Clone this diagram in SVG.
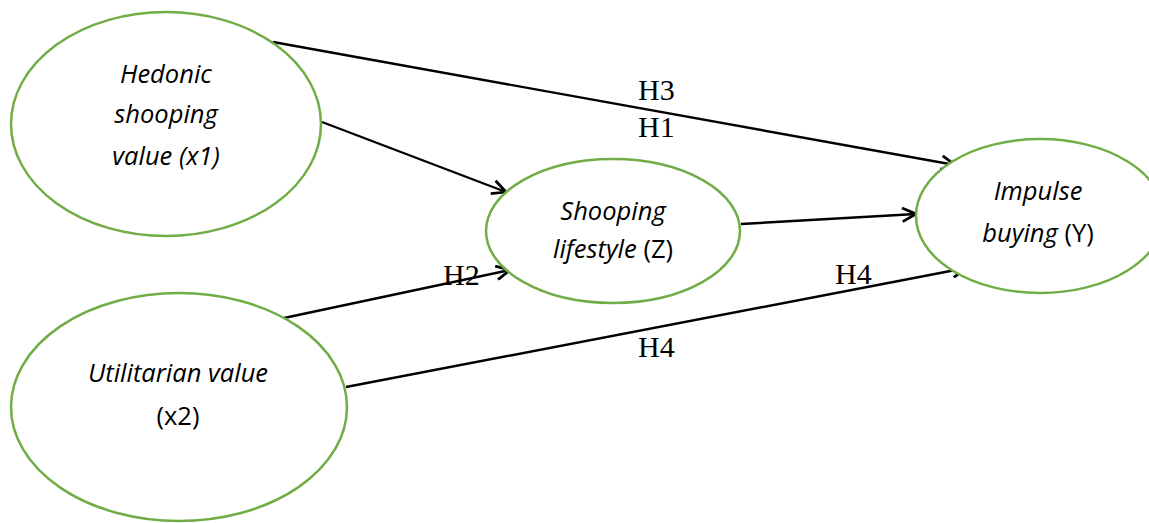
<svg xmlns="http://www.w3.org/2000/svg" width="1149" height="523" viewBox="0 0 1149 523">
<style>
.node{fill:#fff;stroke:#70AD47;stroke-width:2.5}
.t{font-family:"Open Sans","Liberation Sans",sans-serif;font-size:25.5px;fill:#000;text-anchor:middle}
.i{font-style:italic}
.h{font-family:"Liberation Serif","Times New Roman",serif;font-size:30px;fill:#000}
.c{fill:none;stroke:#000;stroke-width:2.4}
</style>
<defs>
<marker id="arr" viewBox="0 0 14 14" refX="13" refY="7" markerWidth="16" markerHeight="16" markerUnits="userSpaceOnUse" orient="auto">
<path d="M1,1 L13,7 L1,13" fill="none" stroke="#000" stroke-width="2.4"/>
</marker>
</defs>
<g id="connectors">
<line class="c" x1="273" y1="42" x2="955" y2="165" marker-end="url(#arr)"/>
<line class="c" x1="322" y1="122" x2="506" y2="192" marker-end="url(#arr)"/>
<line class="c" x1="284" y1="318" x2="510" y2="270" marker-end="url(#arr)"/>
<line class="c" x1="741" y1="224" x2="916" y2="214" marker-end="url(#arr)"/>
<line class="c" x1="346" y1="387" x2="966" y2="268" marker-end="url(#arr)"/>
</g>
<g id="labels">
<text class="h" x="638" y="100">H3</text>
<text class="h" x="638" y="137">H1</text>
<text class="h" x="443" y="285">H2</text>
<text class="h" x="835" y="284">H4</text>
<text class="h" x="638" y="357">H4</text>
</g>
<g id="hedonic">
<ellipse class="node" cx="166" cy="124" rx="155" ry="112"/>
<text class="t i" x="166" y="83">Hedonic</text>
<text class="t i" x="166" y="123">shooping</text>
<text class="t i" x="166" y="165">value (x1)</text>
</g>
<g id="lifestyle">
<ellipse class="node" cx="613" cy="231" rx="127" ry="72"/>
<text class="t i" x="613" y="220">Shooping</text>
<text class="t" x="613" y="258"><tspan class="i">lifestyle</tspan> (Z)</text>
</g>
<g id="impulse">
<ellipse class="node" cx="1040" cy="216" rx="124" ry="77"/>
<text class="t i" x="1038" y="200">Impulse</text>
<text class="t" x="1038" y="242"><tspan class="i">buying</tspan> (Y)</text>
</g>
<g id="utilitarian">
<ellipse class="node" cx="179" cy="407" rx="168" ry="114"/>
<text class="t i" x="178" y="382">Utilitarian value</text>
<text class="t" x="178" y="425">(x2)</text>
</g>
</svg>
